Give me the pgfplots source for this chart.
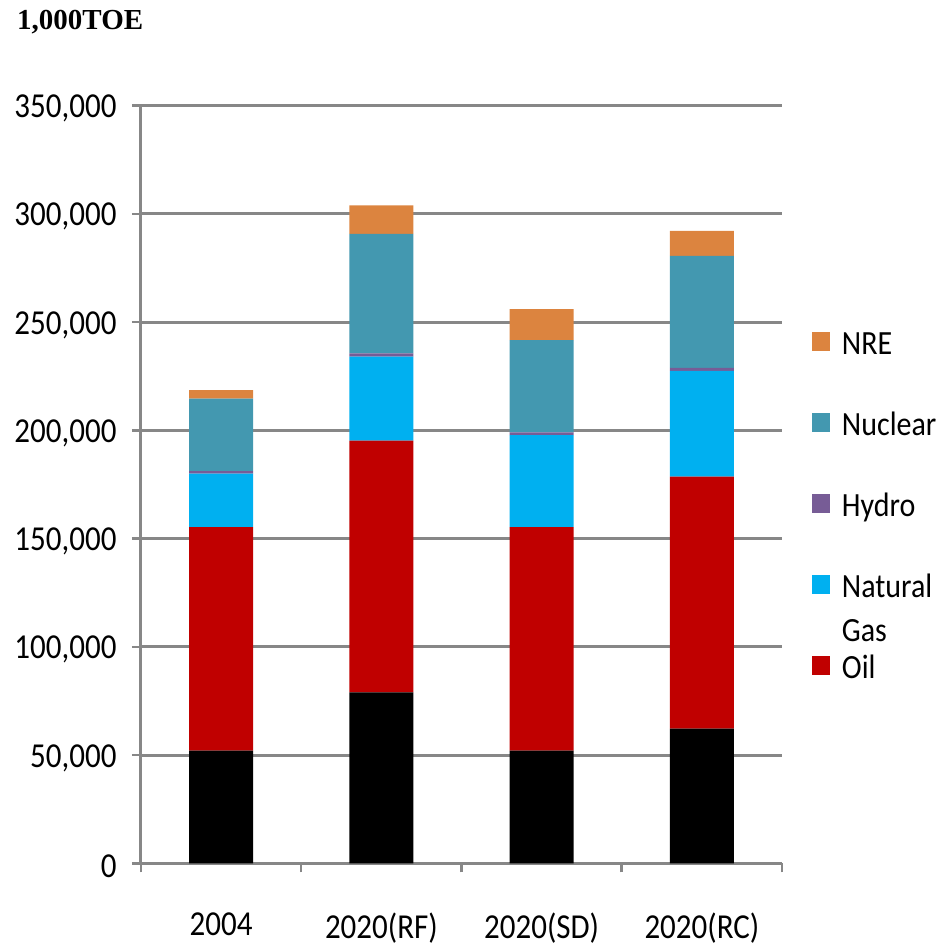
\documentclass[border=0pt]{standalone}
\usepackage{graphicx}
\usepackage{pgfplots}
\pgfplotsset{compat=1.18}
\usepackage{fontspec}
\setmainfont{Carlito}
\newfontfamily\unitfont{Liberation Serif}

\definecolor{gridgray}{HTML}{878787}
\definecolor{oilred}{HTML}{C00000}
\definecolor{gasblue}{HTML}{00B0F0}
\definecolor{hydropurple}{HTML}{775C96}
\definecolor{nucleteal}{HTML}{4398B0}
\definecolor{nreorange}{HTML}{DC843F}

% tall, narrow lettering used for all chart labels
\newcommand{\tall}[1]{\scalebox{1}[1.13]{#1}}

% Primary energy supply, 1,000 TOE
\pgfplotstableread{
x  coal   oil     gas    hydro  nuclear nre
0  52000  103300  24700  1100   33500   4000
1  79000  116200  38800  1600   55200   13100
2  52000  103300  42500  1300   42600   14300
3  62200  116400  48900  1400   51700   11500
}\energydata

\begin{document}
\fontsize{31}{37}\selectfont
\begin{tikzpicture}
\begin{axis}[
  name=ax,
  scale only axis,
  width=641pt, height=757.7pt,
  ybar stacked,
  bar width=64pt,
  xmin=-0.5, xmax=3.5,
  ymin=0, ymax=350000,
  ytick={0,50000,100000,150000,200000,250000,300000,350000},
  scaled y ticks=false,
  yticklabel={\tall{\pgfmathprintnumber[fixed, 1000 sep={,}, assume math mode=true]{\tick}}},
  yticklabel style={xshift=-5pt, yshift=-3pt},
  xtick={-0.5,0.5,1.5,2.5,3.5},
  x tick label as interval,
  xticklabels={\tall{2004},\tall{2020(RF)},\tall{2020(SD)},\tall{2020(RC)}},
  axis lines=left,
  axis line style={-, draw=gridgray, line width=3pt},
  ymajorgrids,
  grid style={draw=gridgray, line width=3pt},
  tick align=outside,
  major tick length=9pt,
  tick style={draw=gridgray, line width=2.5pt},
  tick label style={font=\fontsize{31}{37}\selectfont},
  xticklabel style={yshift=-30pt},
  reverse legend,
  legend cell align=left,
  legend style={
    at={(1.0467,0.7011)}, anchor=north west,
    draw=none, fill=none, inner sep=0pt, outer sep=0pt,
    row sep=52.7pt, column sep=12pt,
    font=\fontsize{30}{36}\selectfont,
    nodes={inner sep=0pt, text height=20pt, text depth=6pt},
  },
  legend image code/.code={\fill[#1] (0pt,-3.7pt) rectangle (18pt,15.3pt);},
]
\addplot+[fill=black, draw=none, forget plot] table[x=x, y=coal] {\energydata};
\addplot+[fill=oilred, draw=none] table[x=x, y=oil] {\energydata};
\addlegendentry{\tall{Oil}}
\addplot+[fill=gasblue, draw=none] table[x=x, y=gas] {\energydata};
\addlegendentry{\tall{\begin{tabular}[t]{@{}l@{}}Natural\\[3pt]Gas\end{tabular}}}
\addplot+[fill=hydropurple, draw=none] table[x=x, y=hydro] {\energydata};
\addlegendentry{\tall{Hydro}}
\addplot+[fill=nucleteal, draw=none] table[x=x, y=nuclear] {\energydata};
\addlegendentry{\tall{Nuclear}}
\addplot+[fill=nreorange, draw=none] table[x=x, y=nre] {\energydata};
\addlegendentry{\tall{NRE}}
\end{axis}
\node[anchor=base west, inner sep=0pt, font=\unitfont\bfseries\fontsize{29}{34}\selectfont]
  at ([xshift=-124pt, yshift=75.6pt]ax.north west) {1,000TOE};
\pgfresetboundingbox
\path (ax.south west) ++(-141pt,-82.7pt) rectangle ++(938pt,946pt);
\end{tikzpicture}
\end{document}
